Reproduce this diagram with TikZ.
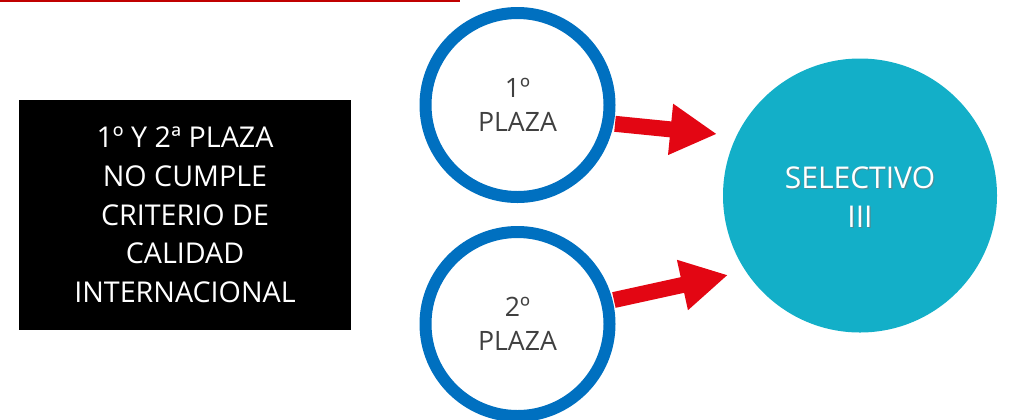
\documentclass[tikz,border=0pt]{standalone}
\usepackage{fontspec}
\setmainfont{Open Sans}
\usepackage{xcolor}
\definecolor{ringblue}{HTML}{0070C0}
\definecolor{arrowred}{HTML}{E30613}
\definecolor{selteal}{HTML}{13AFC8}
\definecolor{topred}{HTML}{C00000}
\usetikzlibrary{arrows.meta}
\usetikzlibrary{positioning}

\tikzset{
  plazaring/.style={circle, draw=ringblue, line width=9pt, fill=white, inner sep=0pt,
    minimum size=138pt, align=center, text=black!75, font=\fontsize{20}{25}\selectfont},
  bigarrow/.style={draw=arrowred, line width=12pt,
    -{Triangle[length=35pt,width=36pt,fill=arrowred]}, shorten <=1pt}
}

\begin{document}
\begin{tikzpicture}[x=0.75pt, y=-0.75pt]
\useasboundingbox (0,0) rectangle (1020,419);

% line on top
\draw[topred, line width=1.2pt] (0,0.8) -- (460,0.8);

% black box
\node[fill=black, minimum width=249pt, minimum height=172.5pt, inner sep=0pt,
      text=white, align=center, font=\fontsize{21.5}{29}\selectfont]
      (quality) at (185,215) {1º Y 2ª PLAZA\\NO CUMPLE\\CRITERIO DE\\CALIDAD\\INTERNACIONAL};

% plazas
\node[plazaring] (first) at (517.5,105) {1º\\PLAZA};
\node[plazaring] (second) at (517.5,324) {2º\\PLAZA};

% selectivo
\node[circle, fill=selteal, minimum size=205.5pt, inner sep=0pt] (sel) at (860,195.5) {};
\node[text=black!55, opacity=0.6, align=center, font=\fontsize{22.5}{29}\selectfont]
      (selshadow) at (861.2,198.2) {SELECTIVO\\III};
\node[text=white, align=center, font=\fontsize{22.5}{29}\selectfont]
      (seltext) at (860,197) {SELECTIVO\\III};

% arrows
\coordinate (tip1) at (717,134);
\coordinate (tip2) at (728,275);
\draw[bigarrow] (first.-11) -- (tip1);
\draw[bigarrow] (second.14) -- (tip2);

\end{tikzpicture}
\end{document}
